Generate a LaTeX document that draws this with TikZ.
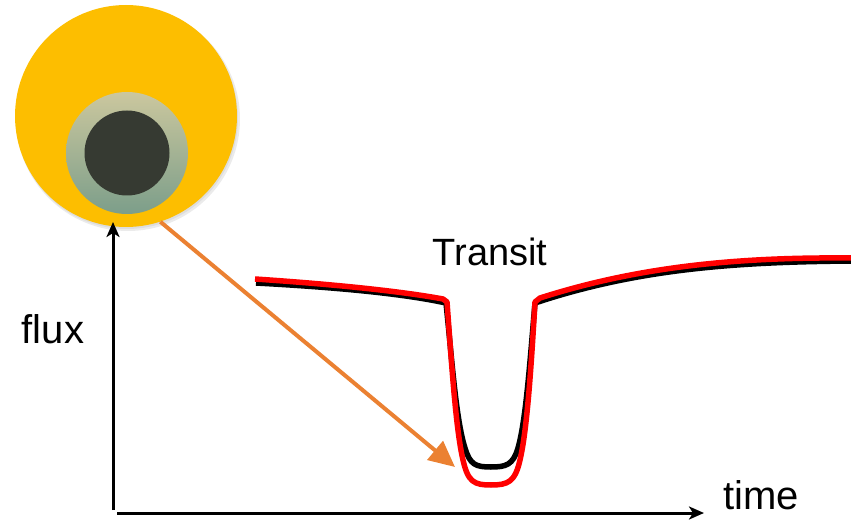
\documentclass[tikz,border=0pt]{standalone}
\usepackage{fontspec}
\setmainfont{Liberation Sans}
\usetikzlibrary{arrows.meta}
\definecolor{sun}{HTML}{FDBE00}
\definecolor{haloTop}{HTML}{CBC79E}
\definecolor{haloBot}{HTML}{7C9E8A}
\definecolor{planet}{HTML}{363A32}
\definecolor{pointer}{HTML}{EB8132}
\definecolor{model}{HTML}{FF0000}
\tikzset{
  axis/.style={line width=3pt,-{Stealth[length=15pt,width=13pt,inset=4pt]}},
  label/.style={font=\fontsize{40}{44}\selectfont, inner sep=0pt},
  lcurve/.style={line width=5.5pt, line join=round},
}
\begin{document}
\begin{tikzpicture}[x=1pt,y=-1pt]
\useasboundingbox (0,0) rectangle (851,521);

% star with transiting planet
\fill[black,opacity=0.08] (128,119) circle (112);
\fill[black,opacity=0.06] (127,118) circle (111);
\node[circle,fill=sun,minimum size=222pt,inner sep=0pt] (star) at (126,116) {};
\shade[top color=haloTop,bottom color=haloBot] (127,153) circle (61);
\node[circle,fill=planet,minimum size=85pt,inner sep=0pt] (planet) at (127,153) {};

% axes
\coordinate (origin) at (113,510);
\coordinate (ytop) at (113,222);
\coordinate (xstart) at (117,513);
\coordinate (xend) at (704,513);
\draw[axis] (origin) -- (ytop);
\draw[axis] (xstart) -- (xend);

\node[label] (flux) at (53,329) {flux};
\node[label] (time) at (761,495) {time};
\node[label,font=\fontsize{38}{42}\selectfont] (transit) at (490,252) {Transit};

% light curves: data in black, model in red
\draw[lcurve,black]
  (256,283) .. controls (330,287) and (400,293) .. (446,303)
  .. controls (452,360) and (456,420) .. (465,448)
  .. controls (470,465) and (476,467) .. (491,467)
  .. controls (506,467) and (513,465) .. (518,448)
  .. controls (526,420) and (530,360) .. (535,303)
  .. controls (640,268) and (740,262) .. (851,261);
\draw[lcurve,model]
  (255,279) .. controls (330,284) and (400,291) .. (443,299)
  -- (447,302)
  .. controls (452,370) and (456,430) .. (463,460)
  .. controls (468,482) and (474,485) .. (491,485)
  .. controls (508,485) and (515,482) .. (520,460)
  .. controls (527,430) and (531,370) .. (535,302)
  -- (540,298)
  .. controls (640,266) and (740,257) .. (851,258);

% pointer from the star's limb to the bottom of the dip
\coordinate (dip) at (455,467);
\draw[pointer,line width=4pt,-{Triangle[length=26pt,width=24pt]}] (star.-72) -- (dip);
\end{tikzpicture}
\end{document}
